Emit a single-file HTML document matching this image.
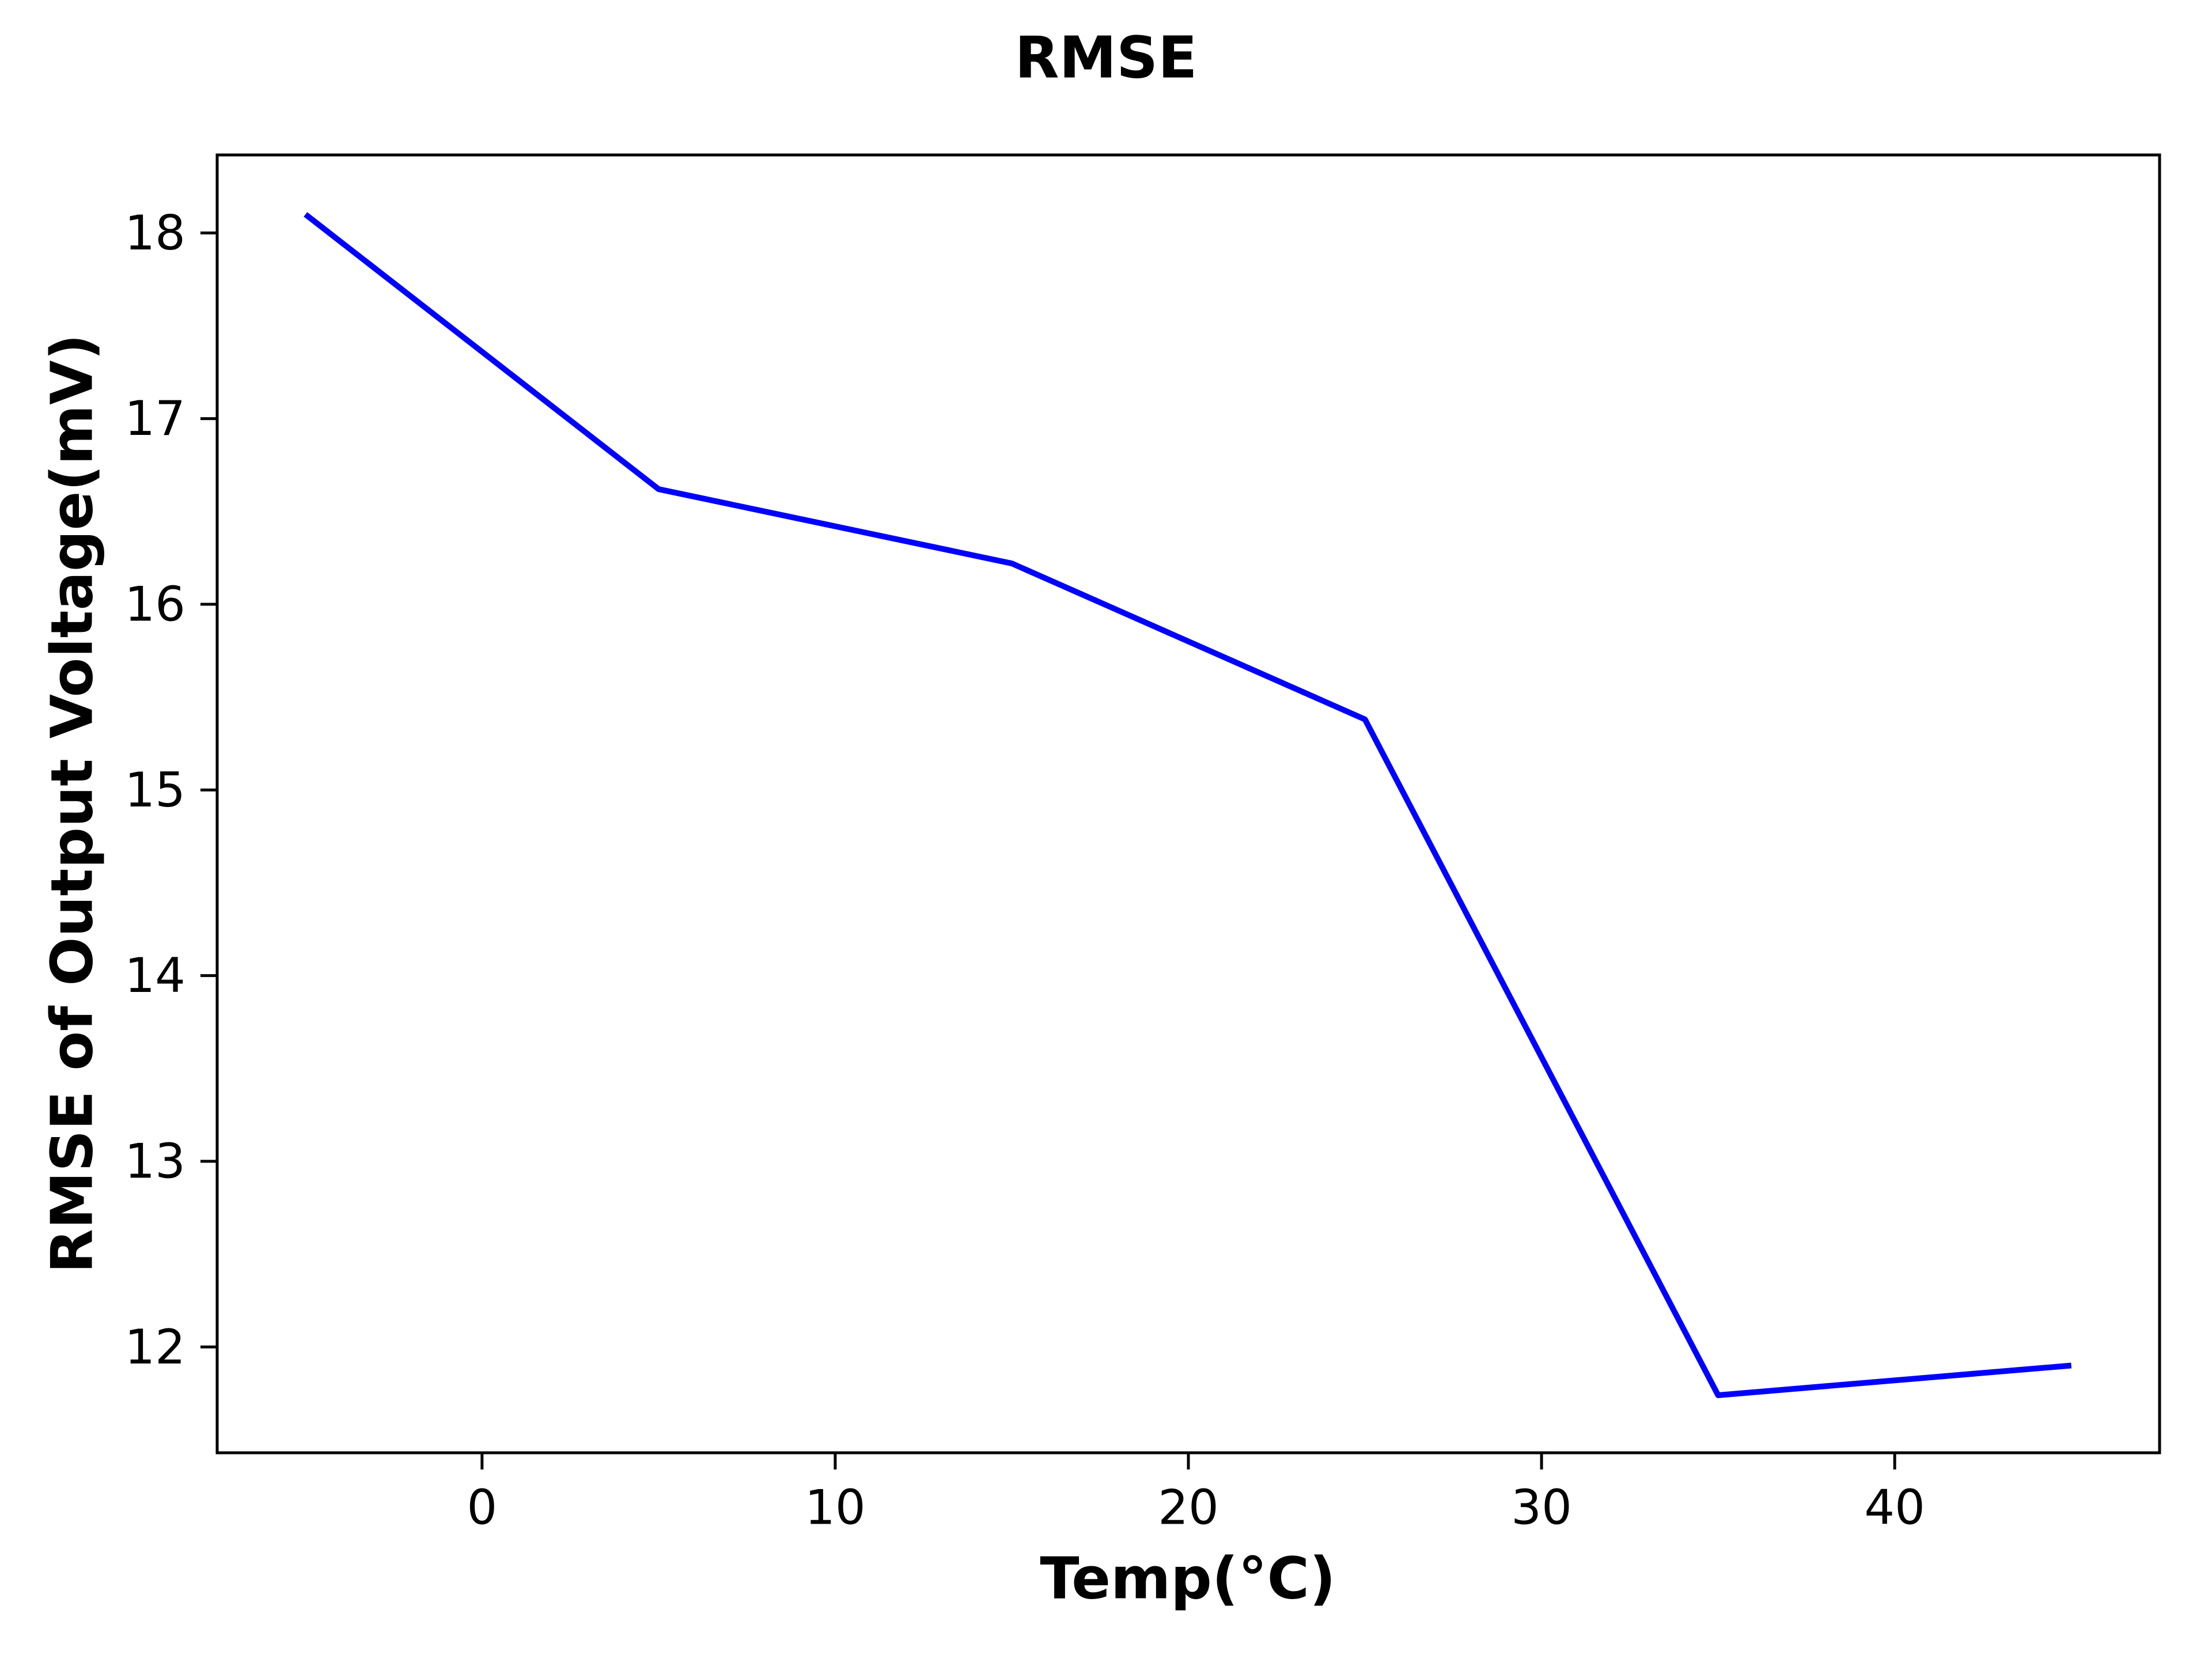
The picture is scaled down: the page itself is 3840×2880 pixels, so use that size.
<!DOCTYPE html>
<html>
<head>
<meta charset="utf-8">
<style>
html,body{margin:0;padding:0;background:#fff;}
svg{display:block;font-family:"DejaVu Sans","Liberation Sans",sans-serif;}
</style>
</head>
<body>
<svg id="chart" width="3840" height="2880" viewBox="0 0 3840 2880" xmlns="http://www.w3.org/2000/svg">
<rect x="0" y="0" width="3840" height="2880" fill="#fff"/>
<text x="1920" y="100" text-anchor="middle" dominant-baseline="central" font-size="100" font-weight="bold">RMSE</text>
<g id="plot"></g>
<text x="2062" y="2740" text-anchor="middle" dominant-baseline="central" font-size="100" font-weight="bold">Temp(°C)</text>
<text transform="translate(125,1395) rotate(-90)" text-anchor="middle" dominant-baseline="central" font-size="100" font-weight="bold">RMSE of Output Voltage(mV)</text>
</svg>
<script>
const temps = [-5, 5, 15, 25, 35, 45];
const rmse = [18.1, 16.62, 16.22, 15.38, 11.74, 11.9];
const xTicks = [0, 10, 20, 30, 40];
const yTicks = [12, 13, 14, 15, 16, 17, 18];

const NS = 'http://www.w3.org/2000/svg';
const L = 377, R = 3749, T = 269, B = 2522;
const xMin = -7.5, xMax = 47.5;
const yMin = 11.43, yMax = 18.42;
function xs(v){ return L + (v - xMin) / (xMax - xMin) * (R - L); }
function ys(v){ return B - (v - yMin) / (yMax - yMin) * (B - T); }
const g = document.getElementById('plot');
function mk(tag, attrs){ const e = document.createElementNS(NS, tag); for (const k in attrs) e.setAttribute(k, attrs[k]); g.appendChild(e); return e; }

xTicks.forEach(v => {
  const t = mk('line', {x1: xs(v), x2: xs(v), y1: B, y2: B + 29, stroke: '#000', 'stroke-width': 5});
  
  
  const lb = mk('text', {x: xs(v), y: B + 95, 'text-anchor': 'middle', 'dominant-baseline': 'central', 'font-size': 83});
  lb.textContent = v;
  
  
});
yTicks.forEach(v => {
  const t = mk('line', {x1: L - 29, x2: L, y1: ys(v), y2: ys(v), stroke: '#000', 'stroke-width': 5});
  
  
  const lb = mk('text', {x: L - 55, y: ys(v), 'text-anchor': 'end', 'dominant-baseline': 'central', 'font-size': 83});
  lb.textContent = v;
  
  
});
const pts = temps.map((t, i) => xs(t) + ',' + ys(rmse[i])).join(' ');
const line = mk('polyline', {points: pts, fill: 'none', stroke: '#0000ff', 'stroke-width': 10, 'stroke-linejoin': 'round'});


const frame = mk('rect', {x: L, y: T, width: R - L, height: B - T, fill: 'none', stroke: '#000', 'stroke-width': 5});


</script>
</body>
</html>
